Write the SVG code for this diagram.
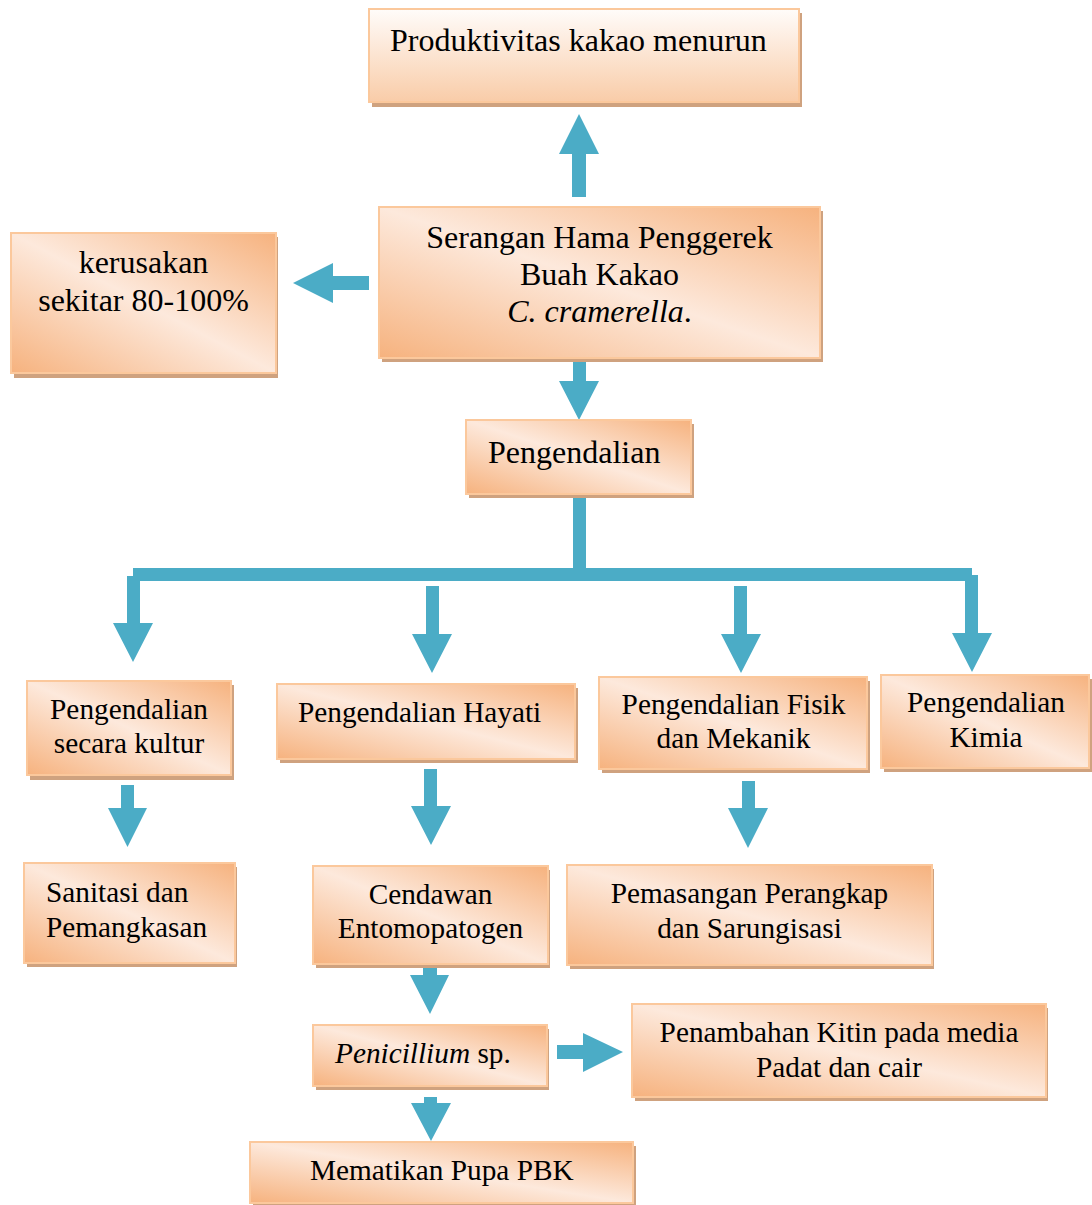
<svg xmlns="http://www.w3.org/2000/svg" width="1092" height="1205" viewBox="0 0 1092 1205">
<defs>
<linearGradient id="gd" x1="1" y1="0" x2="0" y2="1">
<stop offset="0" stop-color="#f6b27e"/>
<stop offset="0.5" stop-color="#fde9dc"/>
<stop offset="1" stop-color="#f6b27e"/>
</linearGradient>
<linearGradient id="gv" x1="0" y1="0" x2="0" y2="1">
<stop offset="0" stop-color="#fffcfa"/>
<stop offset="1" stop-color="#f9cca8"/>
</linearGradient>
</defs>
<style>
.sh{fill:#cfa27f}
.bx{fill:url(#gd);stroke:#fbc89c;stroke-width:2}
.bv{fill:url(#gv);stroke:#fbc89c;stroke-width:2}
text{font-family:"Liberation Serif","Times New Roman",serif;fill:#000}
.l{font-size:32px}
.s{font-size:29.3px}
.c{text-anchor:middle}
.ar{fill:#4bacc6}
</style>
<rect width="1092" height="1205" fill="#fff"/>

<g id="connectors">
<polygon class="ar" points="572,197 586,197 586,154 599,154 579,114 559,154 572,154"/>
<polygon class="ar" points="369,276 369,290 333,290 333,303 293,283 333,263 333,276"/>
<polygon class="ar" points="573,358 586,358 586,381 599,381 579,420 559,381 573,381"/>
<path class="ar" d="M573,494 H586 V568 H972 V575 H978 V633 H992 L972,672 L952,633 H965 V581 H140 V623 H153 L133,662 L113,623 H127 V576 H133 V568 H573 Z"/>
<polygon class="ar" points="426,586 439,586 439,634 452,634 432,673 412,634 426,634"/>
<polygon class="ar" points="734,586 747,586 747,634 761,634 741,673 721,634 734,634"/>
<polygon class="ar" points="121,785 134,785 134,808 147,808 127.5,847 108,808 121,808"/>
<polygon class="ar" points="424,769 437,769 437,806 451,806 431,845 411,806 424,806"/>
<polygon class="ar" points="742,781 755,781 755,808 768,808 748,848 728,808 742,808"/>
<polygon class="ar" points="423,963 437,963 437,975 449,975 430,1014 410,975 423,975"/>
<polygon class="ar" points="424,1097 437,1097 437,1103 451,1103 431,1141 411,1103 424,1103"/>
<polygon class="ar" points="557,1045 583,1045 583,1033 623,1052 583,1072 583,1059 557,1059"/>
</g>

<g id="n-produktivitas">
<rect class="sh" x="372" y="13" width="430" height="94"/>
<rect class="bv" x="369" y="9" width="430" height="93"/>
<text class="l" x="390" y="51">Produktivitas kakao menurun</text>
</g>

<g id="n-serangan">
<rect class="sh" x="382" y="211" width="441" height="151"/>
<rect class="bx" x="379" y="207" width="441" height="151"/>
<text class="l c" x="599.5" y="248">Serangan Hama Penggerek</text>
<text class="l c" x="599.5" y="285">Buah Kakao</text>
<text class="l c" x="599.5" y="322"><tspan font-style="italic">C. cramerella</tspan>.</text>
</g>

<g id="n-kerusakan">
<rect class="sh" x="14" y="237" width="264" height="141"/>
<rect class="bx" x="11" y="233" width="265" height="140"/>
<text class="l c" x="143.5" y="273">kerusakan</text>
<text class="l c" x="143.5" y="311">sekitar 80-100%</text>
</g>

<g id="n-pengendalian">
<rect class="sh" x="469" y="424" width="225" height="74"/>
<rect class="bx" x="466" y="420" width="225" height="74"/>
<text class="l" x="488" y="463">Pengendalian</text>
</g>

<g id="n-kultur">
<rect class="sh" x="30" y="685" width="204" height="95"/>
<rect class="bx" x="27" y="681" width="204" height="94"/>
<text class="s c" x="129" y="719">Pengendalian</text>
<text class="s c" x="129" y="753">secara kultur</text>
</g>

<g id="n-hayati">
<rect class="sh" x="280" y="688" width="298" height="75"/>
<rect class="bx" x="277" y="684" width="298" height="75"/>
<text class="s" x="298" y="722">Pengendalian Hayati</text>
</g>

<g id="n-fisik">
<rect class="sh" x="602" y="681" width="268" height="92"/>
<rect class="bx" x="599" y="677" width="268" height="92"/>
<text class="s c" x="733.5" y="714">Pengendalian Fisik</text>
<text class="s c" x="733.5" y="748">dan Mekanik</text>
</g>

<g id="n-kimia">
<rect class="sh" x="884" y="679" width="208" height="93"/>
<rect class="bx" x="881" y="675" width="208" height="93"/>
<text class="s c" x="986" y="712">Pengendalian</text>
<text class="s c" x="986" y="747">Kimia</text>
</g>

<g id="n-sanitasi">
<rect class="sh" x="27" y="867" width="210" height="100"/>
<rect class="bx" x="24" y="863" width="211" height="100"/>
<text class="s" x="46" y="902">Sanitasi dan</text>
<text class="s" x="46" y="937">Pemangkasan</text>
</g>

<g id="n-cendawan">
<rect class="sh" x="316" y="870" width="234" height="98"/>
<rect class="bx" x="313" y="866" width="235" height="98"/>
<text class="s c" x="430.5" y="904">Cendawan</text>
<text class="s c" x="430.5" y="938">Entomopatogen</text>
</g>

<g id="n-pemasangan">
<rect class="sh" x="570" y="869" width="364" height="100"/>
<rect class="bx" x="567" y="865" width="365" height="100"/>
<text class="s c" x="749.5" y="903">Pemasangan Perangkap</text>
<text class="s c" x="749.5" y="938">dan Sarungisasi</text>
</g>

<g id="n-penicillium">
<rect class="sh" x="316" y="1029" width="233" height="61"/>
<rect class="bx" x="313" y="1025" width="234" height="61"/>
<text class="s" x="335" y="1063"><tspan font-style="italic">Penicillium</tspan> sp.</text>
</g>

<g id="n-penambahan">
<rect class="sh" x="635" y="1008" width="413" height="93"/>
<rect class="bx" x="632" y="1004" width="414" height="93"/>
<text class="s c" x="839" y="1042">Penambahan Kitin pada media</text>
<text class="s c" x="839" y="1077">Padat dan cair</text>
</g>

<g id="n-mematikan">
<rect class="sh" x="253" y="1146" width="383" height="60"/>
<rect class="bx" x="250" y="1142" width="383" height="61"/>
<text class="s" x="310" y="1180">Mematikan Pupa PBK</text>
</g>
</svg>
